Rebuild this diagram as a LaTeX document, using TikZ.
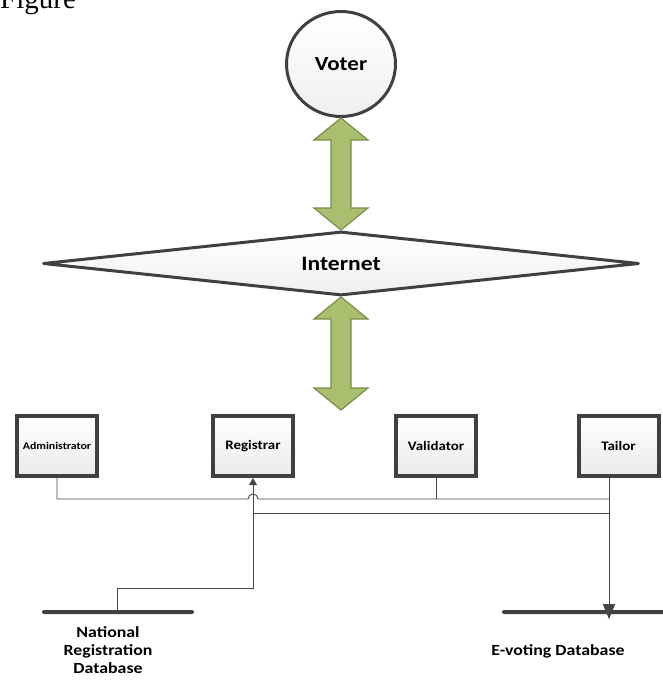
\documentclass[tikz,border=0pt]{standalone}
\usepackage{fontspec}
\setmainfont{Carlito}[FakeStretch=1.15]
\newfontfamily\figfont{Liberation Serif}
\usetikzlibrary{shapes.geometric,arrows.meta,calc}
\definecolor{EdgeGray}{RGB}{64,64,64}
\definecolor{WireGray}{RGB}{70,70,70}
\definecolor{ArrowGreen}{RGB}{170,190,112}
\definecolor{ArrowEdge}{RGB}{122,142,72}

\tikzset{
	actor/.style={ellipse, draw=EdgeGray, line width=3pt, minimum width=109, minimum height=105, top color=white, bottom color=gray!12, font=\bfseries\fontsize{20}{24}\selectfont},
	network/.style={diamond, aspect=9.3, inner sep=0, draw=EdgeGray, line width=3pt, line join=round, minimum width=596, minimum height=64, top color=white, bottom color=gray!12, font=\bfseries\fontsize{20.5}{24}\selectfont},
	role/.style={rectangle, draw=EdgeGray, line width=4pt, minimum width=80, minimum height=60, inner sep=0, top color=white, bottom color=gray!16, font=\bfseries\fontsize{13}{15}\selectfont},
	dbline/.style={rectangle, fill=EdgeGray, minimum height=4, inner sep=0, rounded corners=2},
	dblabel/.style={align=center, inner sep=0, font=\bfseries\fontsize{15.5}{18}\selectfont},
	blockarrow/.style={draw=ArrowEdge, fill=ArrowGreen, line width=1.2pt, line join=miter},
	wire/.style={draw=WireGray, line width=0.9pt}
}

\begin{document}
\begin{tikzpicture}[x=1pt,y=1pt,yscale=-1,xscale=1]
		% Picture is 663 by 688
		\clip (0,0) rectangle (663,688);

		% Caption left over at the top
		\node[anchor=base west, inner sep=0, font=\figfont\fontsize{29}{32}\selectfont] (figcap) at (0,8.5) {Figure};

		% Voter and Internet
		\node[actor] (voter) at (341,64) {Voter};
		\node[network] (internet) at (341,263.5) {Internet};

		% Four roles
		\node[role] (admin) at (57,446) {\fontsize{10.3}{12}\selectfont Administrator};
		\node[role] (registrar) at (253,446) {Registrar};
		\node[role] (validator) at (436,446) {Validator};
		\node[role] (tailor) at (618.5,446) {Tailor};

		% Databases
		\node[dbline, minimum width=152] (ndb) at (118,612) {};
		\node[dbline, minimum width=164] (evdb) at (584,612) {};
		\node[dblabel] (ndblabel) at (108,650) {National\\Registration\\Database};
		\node[dblabel] (evdblabel) at (558,651) {E-voting Database};

		% Free ends and bus points
		\coordinate (lan) at (341,410);
		\coordinate (tailtap) at ($(tailor.south)+(-9.5,0)$);
		\coordinate (busA) at (tailtap |- 0,499);
		\coordinate (busB) at (tailtap |- 0,513);

		% Green double arrow between voter and internet
		\draw[blockarrow] (voter.south) -- ++(27,22) -- ++(-17,0) -- ($(internet.north)+(10,-22)$) -- ++(17,0) -- (internet.north)
			-- ++(-27,-22) -- ++(17,0) -- ($(voter.south)+(-10,22)$) -- ++(-17,0) -- cycle;

		% Green double arrow below internet
		\draw[blockarrow] (internet.south) -- ++(27,22) -- ++(-17,0) -- ($(lan)+(10,-22)$) -- ++(17,0) -- (lan)
			-- ++(-27,-22) -- ++(17,0) -- ($(internet.south)+(-10,22)$) -- ++(-17,0) -- cycle;

		% Upper bus, hopping over the registrar line
		\draw[wire] (admin.south) |- ($(registrar.south |- busA)+(-5,0)$) arc[start angle=180, end angle=360, radius=5] -- (busA);
		\draw[wire] (validator.south) -- (validator.south |- busA);

		% Lower bus
		\draw[wire] (registrar.south |- busB) -- (busB);

		% Tailor down to the e-voting database
		\draw[wire, -{Triangle[width=12pt,length=15pt]}] (tailtap) -- ($(tailtap |- evdb.south)+(0,5)$);

		% National registration database up to the registrar
		\draw[wire, -{Triangle[width=8pt,length=7pt]}] ($(ndb.north)+(-1,0)$) -- ++(0,-21) -| (registrar.south);
	\end{tikzpicture}
\end{document}
